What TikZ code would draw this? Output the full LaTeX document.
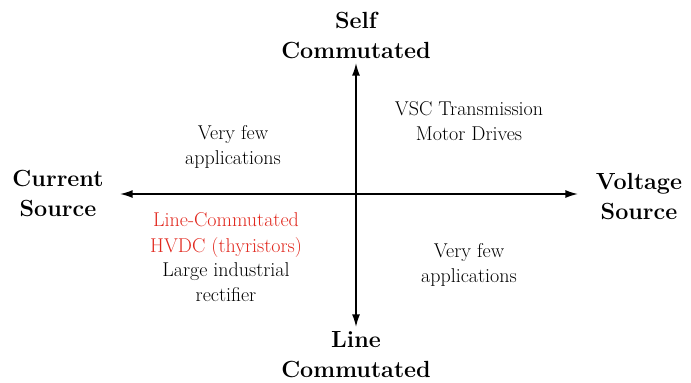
\documentclass[tikz,border=0pt]{standalone}
\usepackage{amsmath}
\usepackage{xcolor}
\usetikzlibrary{arrows.meta}
\definecolor{lccred}{RGB}{225,40,30}

\begin{document}
\begin{tikzpicture}[x=0.75pt,y=-0.75pt,
  axislabel/.style={align=center,font=\fontsize{17.5}{22.5}\selectfont\bfseries},
  quadtext/.style={align=center,font=\fontsize{15}{18.8}\selectfont},
  axis/.style={line width=1.1pt,{Latex[length=9.5pt,width=6pt]}-{Latex[length=9.5pt,width=6pt]}}]
\useasboundingbox (0,0) rectangle (691,382);
% Define the nodes
\coordinate (o) at (356,194);
\coordinate (l) at (120,194);
\coordinate (r) at (578,194);
\coordinate (t) at (356,63);
\coordinate (b) at (356,327);
\node[axislabel] at (356,35) (self) {Self\\Commutated};
\node[axislabel] at (356,355) (line) {Line\\Commutated};
\node[axislabel] at (58,193) (current) {Current\\Source};
\node[axislabel] at (639,197) (voltage) {Voltage\\Source};
\node[quadtext] at (233,147) (fewtop) {Very few\\applications};
\node[quadtext] at (469,121) (vsc) {VSC Transmission\\Motor Drives};
\node[quadtext,text=lccred] at (226,235) (lcc) {Line-Commutated\\HVDC (thyristors)};
\node[quadtext,below=-3pt] at (lcc.south) (rect) {Large industrial\\rectifier};
\node[quadtext] at (469,265) (fewbot) {Very few\\applications};
% Draw the paths
\draw[axis] (l) -- (r);
\draw[axis] (b) -- (t);
\end{tikzpicture}
\end{document}
